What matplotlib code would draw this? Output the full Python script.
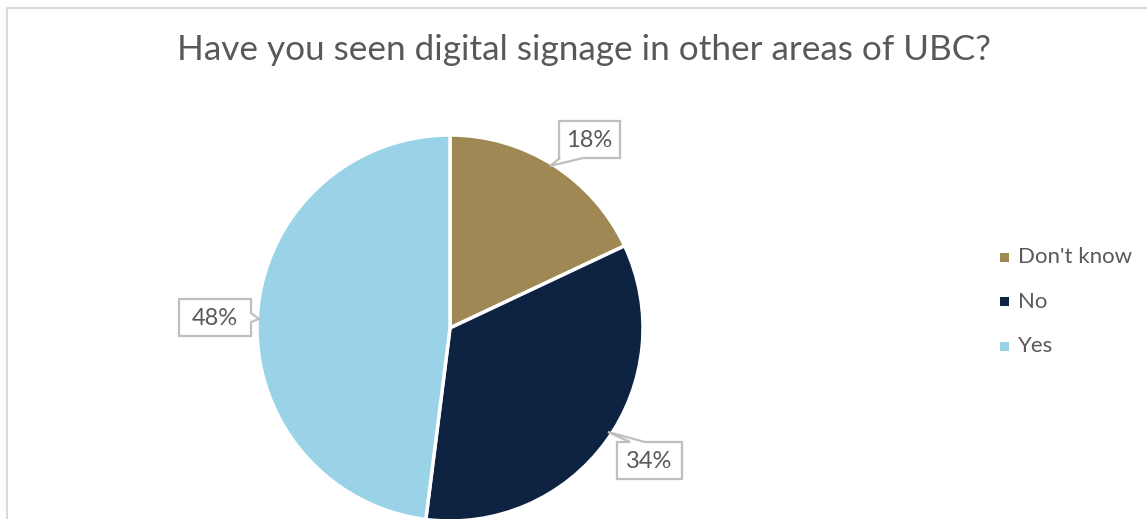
import matplotlib
matplotlib.use("Agg")
from matplotlib import pyplot as plt
from matplotlib.patches import Polygon, Rectangle
from matplotlib.lines import Line2D

# data
labels = ["Don't know", "No", "Yes"]
values = [18, 34, 48]
colors = ["#A08855", "#0E2242", "#9AD3E8"]
title = "Have you seen digital signage in other areas of UBC?"

W, H = 1147, 519
plt.rcParams['font.family'] = ['Lato', 'DejaVu Sans']
txt = "#595959"
edge = "#BFBFBF"

fig = plt.figure(figsize=(W / 100, H / 100), dpi=100)
ax = fig.add_axes([0, 0, 1, 1])

# pie in pixel space (y measured from bottom)
cx, cy, r = 450, H - 328, 193
wedges, _ = ax.pie(values, colors=colors, startangle=90, counterclock=False,
                   center=(cx, cy), radius=r,
                   wedgeprops=dict(edgecolor="white", linewidth=2.5))
ax.set_xlim(0, W)
ax.set_ylim(0, H)
ax.set_aspect("equal")
ax.axis("off")


def callout(box, notch, tip, text):
    # box = (x0, top, x1, bottom) in image pixels (top-down), notch = (side, a, b)
    x0, t, x1, b = box
    t, b = H - t, H - b
    tip = (tip[0], H - tip[1])
    side, a, c = notch
    if side == "bottom":
        pts = [(x0, t), (x1, t), (x1, b), (c, b), tip, (a, b), (x0, b)]
    elif side == "right":
        a, c = H - a, H - c
        pts = [(x0, t), (x1, t), (x1, a), tip, (x1, c), (x1, b), (x0, b)]
    else:  # top
        pts = [(x0, t), (a, t), tip, (c, t), (x1, t), (x1, b), (x0, b)]
    ax.add_patch(Polygon(pts, closed=True, facecolor="white", edgecolor=edge,
                         linewidth=1.6, zorder=5))
    ax.text((x0 + x1) / 2, (t + b) / 2 - 1, text, ha="center", va="center",
            fontsize=17, color=txt, zorder=6)


pct = [f"{v}%" for v in values]
callout((559, 121, 620, 158), ("bottom", 560, 583), (550, 166), pct[0])
callout((617, 442, 682, 479), ("top", 630, 645), (608, 432), pct[1])
callout((179, 299, 251, 336), ("right", 313, 322), (259, 319), pct[2])

# title
ax.text(584, H - 60, title, ha="center", va="baseline", fontsize=25.3, color=txt)

# legend
for i, (lab, col) in enumerate(zip(labels, colors)):
    y = H - (257 + i * 44.5)
    ax.add_patch(Rectangle((1000, y - 4.5), 9, 9, facecolor=col, edgecolor="none"))
    ax.text(1018, y, lab, ha="left", va="center", fontsize=16, color=txt)

# outer chart frame
fig.add_artist(Line2D([7 / W, 7 / W], [0, 1 - 8 / H], transform=fig.transFigure,
                      color="#D9D9D9", linewidth=1.5))
fig.add_artist(Line2D([7 / W, 1], [1 - 8 / H, 1 - 8 / H], transform=fig.transFigure,
                      color="#D9D9D9", linewidth=1.5))

fig.savefig("out.png", dpi=100)
